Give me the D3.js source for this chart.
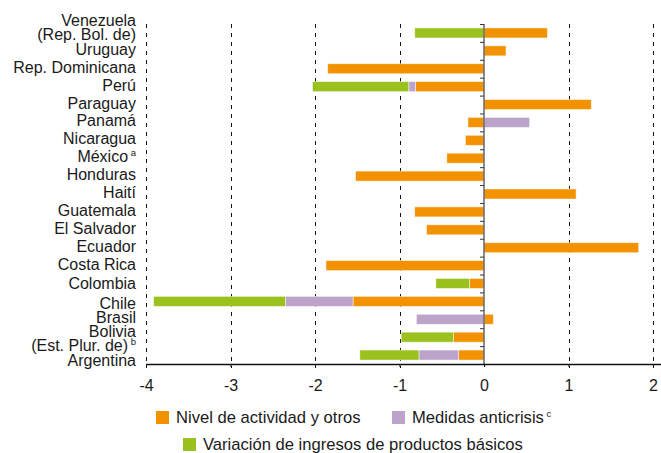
<!DOCTYPE html>
<html>
<head>
<meta charset="utf-8">
<script src="https://cdn.jsdelivr.net/npm/d3@7"></script>
<style>
  body { margin: 0; background: #fff; }
  svg text { font-family: "Liberation Sans", Arial, sans-serif; fill: #1a1a1a; }
</style>
</head>
<body>
<svg id="chart" width="661" height="453"></svg>
<script>
"use strict";

// countries from top to bottom ("\n" = line break, "^" = superscript note)
const COUNTRIES = ["Venezuela\n(Rep. Bol. de)", "Uruguay", "Rep. Dominicana", "Perú", "Paraguay",
    "Panamá", "Nicaragua", "México^a", "Honduras", "Haití", "Guatemala", "El Salvador",
    "Ecuador", "Costa Rica", "Colombia", "Chile", "Brasil", "Bolivia\n(Est. Plur. de)^b", "Argentina"];
const ACTIVIDAD = [0.75, 0.26, -1.85, -0.81, 1.27, -0.19, -0.22, -0.44, -1.52, 1.09, -0.82, -0.68,
    1.83, -1.87, -0.17, -1.55, 0.11, -0.36, -0.30];
const ANTICRISIS = [0, 0, 0, -0.08, 0, 0.54, 0, 0, 0, 0, 0, 0,
    0, 0, 0, -0.80, -0.80, 0, -0.47];
const BASICOS = [-0.82, 0, 0, -1.14, 0, 0, 0, 0, 0, 0, 0, 0,
    0, 0, -0.40, -1.56, 0, -0.62, -0.70];
const X_TICKS = [-4, -3, -2, -1, 0, 1, 2];
const SERIES = ["actividad", "anticrisis", "basicos"];
const LEGEND = ["Nivel de actividad y otros", "Medidas anticrisis^c", "Variación de ingresos de productos básicos"];
const COLORS = ["#F39200", "#BBA3CA", "#9BC11F"];

const W = 661, H = 453;
const plot = { left: 146, right: 653, top: 24, bottom: 364 };
const FONT = 16;

const svg = d3.select("#chart");

const x = d3.scaleLinear().domain([-4, 2]).range([plot.left, plot.right]);
const y = d3.scaleBand().domain(COUNTRIES).range([plot.top, plot.bottom])
    .paddingInner(0.44).paddingOuter(0.22);
const color = d3.scaleOrdinal().domain(SERIES).range(COLORS);

// table for the stack
let rows = COUNTRIES.map((c, i) => ({ country: c, actividad: ACTIVIDAD[i], anticrisis: ANTICRISIS[i], basicos: BASICOS[i] }));
let stacked = d3.stack().keys(SERIES).offset(d3.stackOffsetDiverging)(rows);

// writes "text^sup" into a text element
function writeWithSup(sel, str, supSize) {
    let parts = str.split("^");
    sel.append("tspan").text(parts[0]);
    if (parts.length > 1) {
        sel.append("tspan").attr("font-size", supSize).attr("dy", -6).text(" " + parts[1]);
    }
}

// dashed grid
svg.append("g")
    .selectAll("line")
    .data(X_TICKS.filter(t => t != 0))
    .join("line")
    .attr("x1", d => Math.round(x(d)) + 0.5)
    .attr("x2", d => Math.round(x(d)) + 0.5)
    .attr("y1", plot.top)
    .attr("y2", plot.bottom + 4)
    .attr("stroke", "#111")
    .attr("stroke-width", 1)
    .attr("stroke-dasharray", "4,5");

// bars
svg.append("g")
    .selectAll("g")
    .data(stacked)
    .join("g")
    .attr("fill", d => color(d.key))
    .selectAll("rect")
    .data(d => d)
    .join("rect")
    .attr("x", d => x(Math.min(d[0], d[1])))
    .attr("width", d => Math.abs(x(d[1]) - x(d[0])))
    .attr("y", d => y(d.data.country))
    .attr("height", y.bandwidth())
    .attr("stroke", "#fff")
    .attr("stroke-opacity", 0.6)
    .attr("stroke-width", 0.8);

// zero axis with little ticks at band edges
const yEdges = d3.scaleLinear().domain([0, COUNTRIES.length]).range([plot.top, plot.bottom]);
let zeroAxis = svg.append("g")
    .attr("transform", `translate(${x(0)},0)`)
    .call(d3.axisLeft(yEdges).ticks(COUNTRIES.length).tickSize(4).tickFormat(""));
zeroAxis.select(".domain").attr("stroke", "#666").attr("stroke-width", 1.5).attr("d", `M0,${plot.top}V${plot.bottom}`);
zeroAxis.selectAll(".tick line").attr("stroke", "#333");

// bottom axis
let xAxis = svg.append("g")
    .attr("transform", `translate(0,${plot.bottom})`)
    .call(d3.axisBottom(x).tickValues(X_TICKS).tickSize(3).tickPadding(13).tickFormat(d => String(d)));
xAxis.select(".domain").remove();
xAxis.selectAll(".tick line").attr("stroke", "#111");
xAxis.selectAll("text").attr("font-size", FONT).attr("font-family", null).style("fill", "#1a1a1a");
svg.append("line")
    .attr("x1", plot.left).attr("x2", W)
    .attr("y1", plot.bottom + 0.5).attr("y2", plot.bottom + 0.5)
    .attr("stroke", "#111").attr("stroke-width", 1.6);

// category labels (a few nudged like in the original)
const labelShift = { "Venezuela\n(Rep. Bol. de)": -4, "Colombia": 1.5, "Chile": 3.5, "Bolivia\n(Est. Plur. de)^b": 3, "Argentina": 7 };
svg.append("g")
    .selectAll("text")
    .data(COUNTRIES)
    .join("text")
    .attr("text-anchor", "end")
    .attr("font-size", FONT)
    .each(function(d) {
        let lines = d.split("\n");
        let cy = y(d) + y.bandwidth() / 2 + (labelShift[d] || 0);
        let t = d3.select(this);
        lines.forEach((ln, i) => {
            let base = cy + 4 + (i - (lines.length - 1) / 2) * 14;
            let tt = t.append("tspan").attr("x", 136).attr("y", base);
            let parts = ln.split("^");
            tt.text(parts[0]);
            if (parts.length > 1) {
                t.append("tspan").attr("font-size", 9.5).attr("dy", -6).text(" " + parts[1]);
            }
        });
    });

// legend
const legendPos = [[156, 411], [392, 411], [183, 438]];
let lg = svg.append("g")
    .selectAll("g")
    .data(LEGEND)
    .join("g")
    .attr("transform", (d, i) => `translate(${legendPos[i][0]},${legendPos[i][1]})`);
lg.append("rect")
    .attr("width", 13).attr("height", 13)
    .attr("fill", (d, i) => COLORS[i]);
lg.append("text")
    .attr("x", 20).attr("y", 12)
    .attr("font-size", 16.6)
    .each(function(d) { writeWithSup(d3.select(this), d, 9.5); });
</script>
</body>
</html>
